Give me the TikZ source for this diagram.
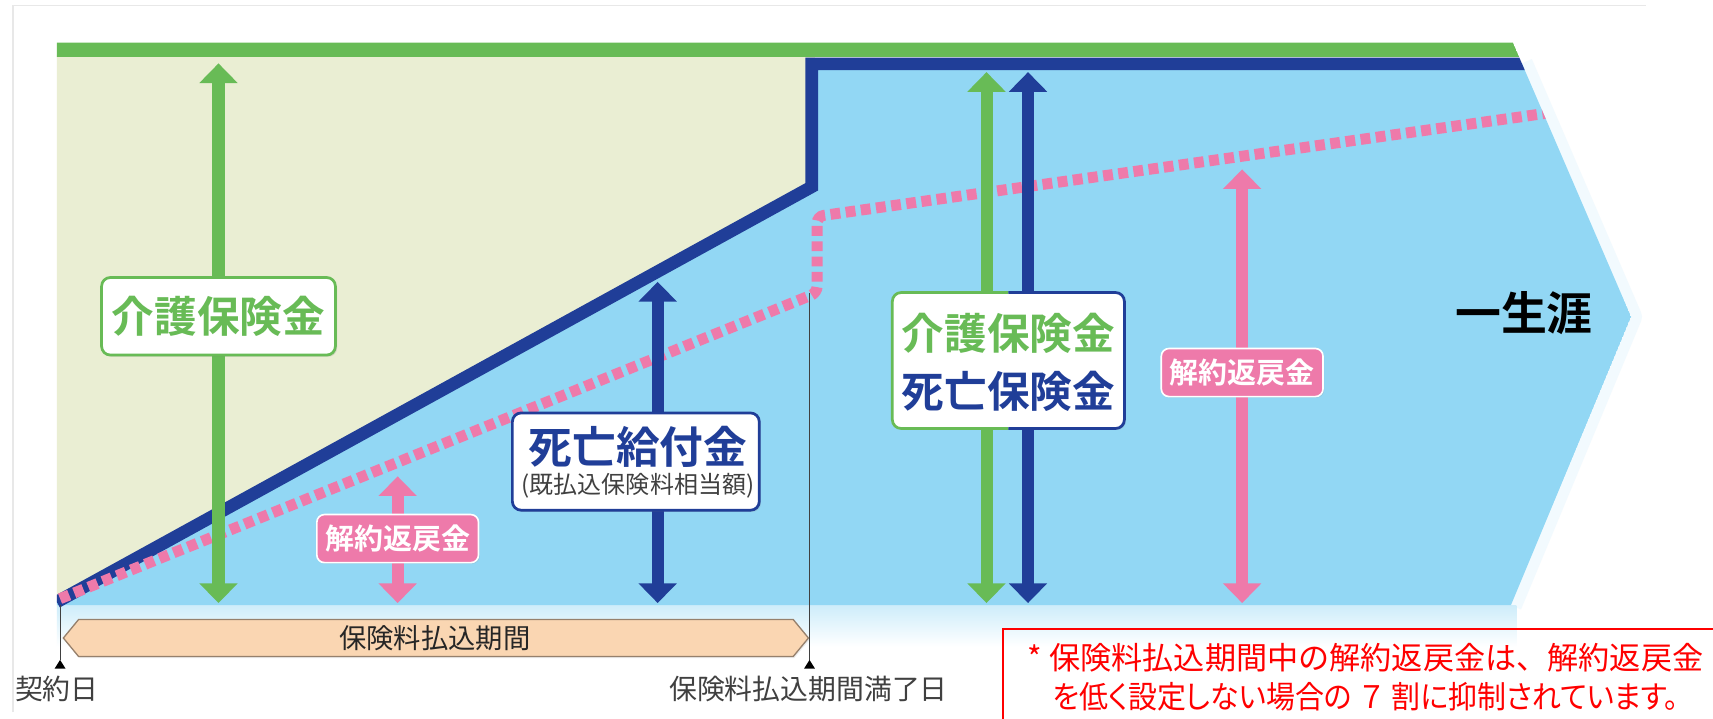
\documentclass[tikz,border=0pt]{standalone}
\usepackage{fontspec}
\newfontfamily\jp{Noto Sans CJK JP}[BoldFont={Noto Sans CJK JP Bold}]
\newfontfamily\jpp{Noto Sans CJK JP}[RawFeature=+palt]
\usetikzlibrary{arrows.meta,shadows}
\definecolor{navy}{RGB}{32,62,152}
\definecolor{grn}{RGB}{104,187,86}
\definecolor{beige}{RGB}{234,238,211}
\definecolor{skyb}{RGB}{146,215,244}
\definecolor{pinkc}{RGB}{238,122,170}
\definecolor{peach}{RGB}{250,214,178}
\definecolor{barline}{RGB}{150,128,108}
\definecolor{txtgray}{RGB}{64,64,64}
\definecolor{redc}{RGB}{255,0,0}
\definecolor{framegray}{RGB}{232,232,232}
\tikzset{
  dbl/.style={line width=11pt,{Triangle[width=34pt,length=18pt]}-{Triangle[width=34pt,length=18pt]}},
  whitebox/.style={fill=white,rounded corners=8pt,inner sep=0pt,
    drop shadow={opacity=0.25,shadow xshift=1.5pt,shadow yshift=-1.5pt}},
  pinkbox/.style={fill=pinkc,draw=white,line width=1.5pt,rounded corners=7pt,inner sep=0pt,
    minimum width=148pt,minimum height=44pt,text=white,
    font=\jp\bfseries\fontsize{26.5}{30}\selectfont,
    drop shadow={opacity=0.2,shadow xshift=1pt,shadow yshift=-1pt}},
  bigtxt/.style={inner sep=0pt,font=\jp\bfseries\fontsize{39}{44}\selectfont},
  smalltxt/.style={inner sep=0pt,text=txtgray,font=\jp\fontsize{25.5}{30}\selectfont},
  notetxt/.style={inner sep=0pt,text=redc,font=\jp\fontsize{28.5}{32}\selectfont},
}
\begin{document}
\begin{tikzpicture}[x=1pt,y=-1pt]
\useasboundingbox (0,0) rectangle (1568,658);
\fill[white] (0,0) rectangle (1568,658);
% light frame
\draw[framegray,line width=1.2pt] (12,652) -- (12,5) -- (1507,5);
% soft glow at right edge
\draw[skyb!12,line width=20pt,line join=round] (1393,58) -- (1493,290) -- (1383,554);
% bottom fade
\fill[top color=skyb!45,bottom color=white] (52,554) rectangle (1388,592);
\begin{scope}
\clip (52,0) -- (1368,0) -- (1493,290) -- (1383,556) -- (52,556) -- cycle;
\fill[beige] (52,50) -- (746,50) -- (746,171) -- (52,550) -- cycle;
\fill[skyb] (52,550) -- (743,171) -- (743,58) -- (1400,58) -- (1493,290) -- (1383,554) -- (52,554) -- cycle;
\fill[grn] (52,39) -- (1385,39) -- (1391,52) -- (52,52) -- cycle;
\draw[navy,line width=11.5pt,line join=miter] (52,551) -- (743,171) -- (743,58.5) -- (1420,58.5);
\draw[pinkc,line width=10pt,dash pattern=on 9pt off 5pt,rounded corners=6pt]
  (55,548) -- (748,268) -- (748,198) -- (1420,103);
\end{scope}
% arrow end points
\coordinate (gAt) at (200,58);  \coordinate (gAb) at (200,552);
\coordinate (pAt) at (364,436); \coordinate (pAb) at (364,552);
\coordinate (nAt) at (602,258); \coordinate (nAb) at (602,552);
\coordinate (gBt) at (903,66);  \coordinate (gBb) at (903,552);
\coordinate (nBt) at (941,66);  \coordinate (nBb) at (941,552);
\coordinate (pBt) at (1137,155);\coordinate (pBb) at (1137,552);
\draw[dbl,grn] (gAt) -- (gAb);
\draw[dbl,pinkc] (pAt) -- (pAb);
\draw[dbl,navy] (nAt) -- (nAb);
\draw[dbl,grn] (gBt) -- (gBb);
\draw[dbl,navy] (nBt) -- (nBb);
\draw[dbl,pinkc] (pBt) -- (pBb);
% left care label
\node[whitebox,draw=grn,line width=2.5pt,minimum width=214pt,minimum height=71pt] (kaigoL) at (200,289.5) {};
\node[bigtxt,text=grn] (kaigoLt) at (200,290) {介護保険金};
% right combined label
\node[whitebox,minimum width=212pt,minimum height=124pt] (kaigoR) at (923,330) {};
\draw[grn,line width=2.5pt,rounded corners=8pt] (kaigoR.north) -- (kaigoR.north west) -- (kaigoR.south west) -- (kaigoR.south);
\draw[navy,line width=2.5pt,rounded corners=8pt] (kaigoR.north) -- (kaigoR.north east) -- (kaigoR.south east) -- (kaigoR.south);
\node[bigtxt,text=grn] (kaigoRt) at (923,305.5) {介護保険金};
\node[bigtxt,text=navy] (shiboRt) at (923,358) {死亡保険金};
% death benefit label
\node[whitebox,draw=navy,line width=2.5pt,minimum width=226pt,minimum height=89pt] (shibo) at (582,422.5) {};
\node[inner sep=0pt,text=navy,font=\jp\bfseries\fontsize{40}{44}\selectfont] (shiboT) at (584,409) {死亡給付金};
\node[inner sep=0pt,text=txtgray,font=\jp\fontsize{22}{26}\selectfont] (shiboS) at (584,445) {(既払込保険料相当額)};
% surrender labels
\node[pinkbox] (kaiyakuL) at (364,493) {解約返戻金};
\node[pinkbox] (kaiyakuR) at (1137,341) {解約返戻金};
% lifetime
\node[inner sep=0pt,font=\jp\bfseries\fontsize{42}{46}\selectfont] (life) at (1395,287) {一生涯};
% payment period bar
\draw[barline,fill=peach,line width=1.2pt,
  drop shadow={opacity=0.15,shadow xshift=1pt,shadow yshift=-1.5pt}]
  (58,584) -- (72,567) -- (726,567) -- (740,584) -- (726,601) -- (72,601) -- cycle;
\node[inner sep=0pt,text=black!85,font=\jp\fontsize{25}{30}\selectfont] (bar) at (398,584) {保険料払込期間};
% markers
\coordinate (m1t) at (55,554); \coordinate (m1b) at (55,604);
\coordinate (m2t) at (741,268); \coordinate (m2b) at (741,604);
\draw[black!75,line width=0.9pt] (m1t) -- (m1b);
\draw[black!75,line width=0.9pt] (m2t) -- (m2b);
\fill[black] (m1b) -- ++(5,8) -- ++(-10,0) -- cycle;
\fill[black] (m2b) -- ++(5,8) -- ++(-10,0) -- cycle;
\node[smalltxt] (start) at (52,631) {契約日};
\node[smalltxt] (finish) at (740,631) {保険料払込期間満了日};
% note box
\draw[redc,line width=2pt] (918,576) rectangle (1600,700);
\node[notetxt] (note1) at (1250,602) {* 保険料払込期間中の解約返戻金は、解約返戻金};
\node[notetxt,font=\jpp\fontsize{28.5}{32}\selectfont,transform shape,xscale=0.93] (note2) at (1250,637.5) {を低く設定しない場合の\hspace{0.3em}７\hspace{0.3em}割に抑制されています。};
\end{tikzpicture}
\end{document}
